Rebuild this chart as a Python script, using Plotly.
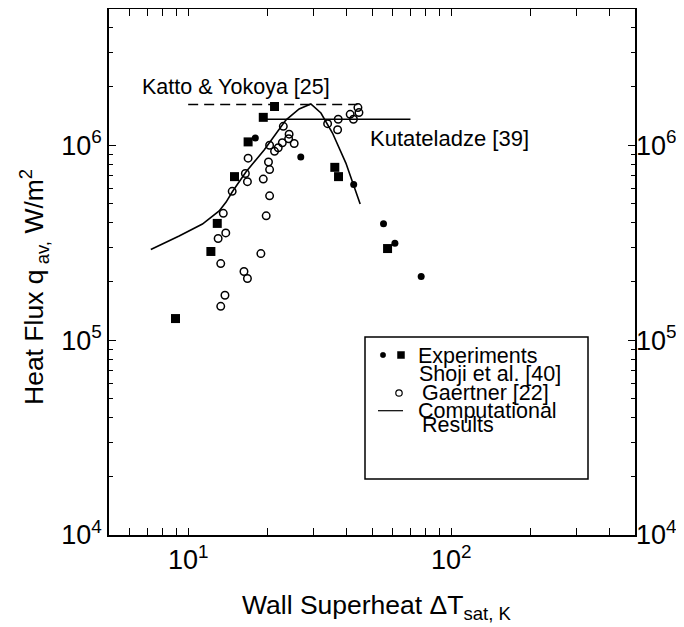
import plotly.graph_objects as go

# ---------------- data ----------------
sq_x = [21.3, 19.3, 16.9, 15.0, 12.9, 12.2, 8.95, 36.1, 37.3, 57.3]
sq_y = [1.58e6, 1.39e6, 1.04e6, 6.9e5, 3.97e5, 2.85e5, 1.29e5, 7.7e5, 6.9e5, 2.95e5]

dot_x = [18.0, 26.8, 42.6, 55.3, 61.1, 76.9]
dot_y = [1.09e6, 8.7e5, 6.29e5, 3.96e5, 3.14e5, 2.12e5]

gaertner_x = [44.2, 44.6, 41.3, 42.5, 37.2, 33.9, 37.0, 23.0, 24.2, 24.1, 25.3,
              22.8, 22.0, 21.3, 20.4, 20.2, 20.4, 16.9, 16.5, 16.8, 19.3, 14.7,
              20.4, 19.8, 13.6, 13.9, 13.0, 13.3, 18.9, 16.3, 16.8, 13.8, 13.3]
gaertner_y = [1.56e6, 1.47e6, 1.44e6, 1.36e6, 1.36e6, 1.29e6, 1.2e6, 1.25e6, 1.14e6,
              1.08e6, 1.02e6, 1.03e6, 9.7e5, 9.3e5, 1.0e6, 8.2e5, 7.5e5, 8.58e5,
              7.16e5, 6.5e5, 6.7e5, 5.8e5, 5.5e5, 4.34e5, 4.47e5, 3.55e5, 3.32e5,
              2.47e5, 2.78e5, 2.25e5, 2.07e5, 1.70e5, 1.49e5]

comp_x = [7.21, 9.24, 11.33, 13.12, 13.94, 14.74, 16.58, 19.45, 23.52, 26.42,
          29.27, 31.97, 35.38, 39.78, 45.08]
comp_y = [2.92e5, 3.42e5, 3.94e5, 4.60e5, 5.11e5, 5.79e5, 7.29e5, 9.45e5, 1.346e6,
          1.534e6, 1.627e6, 1.463e6, 1.155e6, 8.10e5, 4.99e5]

katto_x = [10.0, 44.0]
katto_y = [1.62e6, 1.62e6]

kutat_x = [19.5, 70.0]
kutat_y = [1.36e6, 1.36e6]

x_major = [10, 100]
x_major_text = ["10<sup>1</sup>", "10<sup>2</sup>"]
y_major = [1e4, 1e5, 1e6]
y_major_text = ["10<sup>4</sup>", "10<sup>5</sup>", "10<sup>6</sup>"]
x_minor = [6, 7, 8, 9, 20, 30, 40, 50, 60, 70, 80, 90, 200, 300, 400]
y_minor = [2e4, 3e4, 4e4, 5e4, 6e4, 7e4, 8e4, 9e4,
           2e5, 3e5, 4e5, 5e5, 6e5, 7e5, 8e5, 9e5,
           2e6, 3e6, 4e6]

FONT = "Liberation Sans, Arial, Helvetica, sans-serif"
BLACK = "black"

fig = go.Figure()

fig.add_trace(go.Scatter(x=katto_x, y=katto_y, mode="lines",
                         line=dict(color=BLACK, width=1.5, dash="10px,6px"),
                         showlegend=False, hoverinfo="skip"))
fig.add_trace(go.Scatter(x=kutat_x, y=kutat_y, mode="lines",
                         line=dict(color=BLACK, width=1.5),
                         showlegend=False, hoverinfo="skip"))
fig.add_trace(go.Scatter(x=comp_x, y=comp_y, mode="lines",
                         line=dict(color=BLACK, width=1.6),
                         showlegend=False))
fig.add_trace(go.Scatter(x=gaertner_x, y=gaertner_y, mode="markers",
                         marker=dict(symbol="circle-open", size=7.5, color=BLACK,
                                     line=dict(width=1.5, color=BLACK)),
                         showlegend=False))
fig.add_trace(go.Scatter(x=sq_x, y=sq_y, mode="markers",
                         marker=dict(symbol="square", size=9, color=BLACK),
                         showlegend=False))
fig.add_trace(go.Scatter(x=dot_x, y=dot_y, mode="markers",
                         marker=dict(symbol="circle", size=7, color=BLACK),
                         showlegend=False))
# invisible trace to activate right-hand axis labels
fig.add_trace(go.Scatter(x=[None], y=[None], yaxis="y2", showlegend=False,
                         hoverinfo="skip"))

axis_common = dict(
    type="log", showgrid=False, zeroline=False, showline=True,
    linecolor=BLACK, linewidth=1.5, mirror="allticks",
    ticks="inside", ticklen=7, tickwidth=1.2, tickcolor=BLACK,
    tickfont=dict(family=FONT, size=27, color=BLACK),
    automargin=False,
)

# the page body has an 8 px margin, so the figure is 8 px smaller than the window
fig.update_layout(
    template="none",
    width=676, height=619,
    margin=dict(l=101, r=49, t=1, b=92),
    paper_bgcolor="white", plot_bgcolor="white",
    showlegend=False,
    xaxis=dict(range=[0.69897, 2.69897], tickvals=x_major, ticktext=x_major_text,
               minor=dict(tickvals=x_minor, ticks="inside", ticklen=4,
                          tickwidth=1.2, tickcolor=BLACK, showgrid=False),
               **axis_common),
    yaxis=dict(range=[4, 6.69897], tickvals=y_major, ticktext=y_major_text,
               minor=dict(tickvals=y_minor, ticks="inside", ticklen=4,
                          tickwidth=1.2, tickcolor=BLACK, showgrid=False),
               **axis_common),
    yaxis2=dict(type="log", range=[4, 6.69897], overlaying="y", side="right",
                tickvals=y_major, ticktext=y_major_text, showgrid=False,
                zeroline=False, showline=False, ticks="",
                tickfont=dict(family=FONT, size=27, color=BLACK),
                automargin=False),
)

# helpers: window pixel -> paper coordinate (plot area spans 109..635 x, 9..535 y)
def px_x(px):
    return (px - 109) / 526.0

def px_y(py):
    return (535 - py) / 526.0

annos = []
# axis titles
annos.append(dict(text="Wall Superheat \u0394T<sub>sat, K</sub>", xref="paper", yref="paper",
                  x=px_x(376), y=px_y(607), xanchor="center", yanchor="middle",
                  showarrow=False, font=dict(family=FONT, size=26.5, color=BLACK)))
annos.append(dict(text="Heat Flux q<sub> av,</sub> W/m<sup>2</sup>", xref="paper", yref="paper",
                  x=px_x(34), y=px_y(287), xanchor="center", yanchor="middle",
                  textangle=-90, showarrow=False,
                  font=dict(family=FONT, size=26.5, color=BLACK)))
# curve labels
annos.append(dict(text="Katto & Yokoya [25]", xref="paper", yref="paper",
                  x=px_x(140), y=px_y(87), xanchor="left", yanchor="middle",
                  showarrow=False, font=dict(family=FONT, size=21.5, color=BLACK)))
annos.append(dict(text="Kutateladze [39]", xref="paper", yref="paper",
                  x=px_x(368), y=px_y(138), xanchor="left", yanchor="middle",
                  showarrow=False, font=dict(family=FONT, size=22, color=BLACK)))
# legend text
for txt, lx, ly in [("Experiments", 416, 355.5), ("Shoji et al. [40]", 417, 374),
                    ("Gaertner [22]", 420, 392.5), ("Computational", 416, 410.5),
                    ("Results", 420, 425)]:
    annos.append(dict(text=txt, xref="paper", yref="paper", x=px_x(lx), y=px_y(ly),
                      xanchor="left", yanchor="middle", showarrow=False,
                      font=dict(family=FONT, size=21.5, color=BLACK)))

shapes = []
shapes.append(dict(type="rect", xref="paper", yref="paper",
                   x0=px_x(365), x1=px_x(588), y0=px_y(479), y1=px_y(337),
                   line=dict(color=BLACK, width=1.5), fillcolor="white", layer="below"))
shapes.append(dict(type="circle", xref="paper", yref="paper", xsizemode="pixel",
                   ysizemode="pixel", xanchor=px_x(383), yanchor=px_y(355),
                   x0=-2.7, x1=2.7, y0=-2.7, y1=2.7, fillcolor=BLACK,
                   line=dict(color=BLACK, width=0.5)))
shapes.append(dict(type="rect", xref="paper", yref="paper", xsizemode="pixel",
                   ysizemode="pixel", xanchor=px_x(401), yanchor=px_y(355),
                   x0=-3.5, x1=3.5, y0=-3.5, y1=3.5, fillcolor=BLACK,
                   line=dict(color=BLACK, width=0.5)))
shapes.append(dict(type="circle", xref="paper", yref="paper", xsizemode="pixel",
                   ysizemode="pixel", xanchor=px_x(399), yanchor=px_y(393),
                   x0=-3.2, x1=3.2, y0=-3.2, y1=3.2,
                   line=dict(color=BLACK, width=1.2)))
shapes.append(dict(type="line", xref="paper", yref="paper",
                   x0=px_x(378), x1=px_x(403), y0=px_y(410.7), y1=px_y(410.7),
                   line=dict(color=BLACK, width=1.2)))

fig.update_layout(annotations=annos, shapes=shapes)

fig.write_html("out.html")
